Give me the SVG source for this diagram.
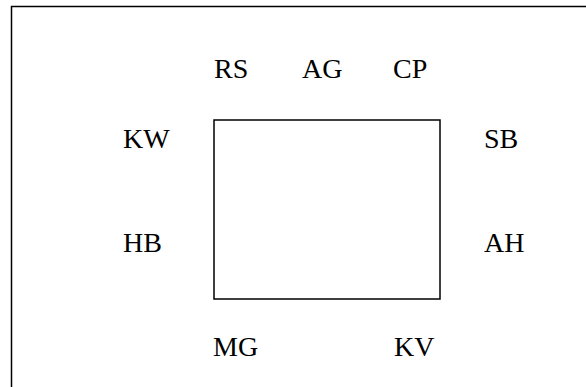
<svg xmlns="http://www.w3.org/2000/svg" width="586" height="387" viewBox="0 0 586 387">
<style>
.lbl{font-family:"Liberation Serif","Times New Roman",serif;font-size:28px;fill:#000}
.box{fill:none;stroke:#000;stroke-width:1.5}
</style>
<rect width="586" height="387" fill="#fff"/>
<rect id="frame" class="box" x="11.5" y="6.5" width="600" height="400" stroke-width="2"/>
<g id="center"><rect class="box" x="214" y="120" width="226" height="179"/></g>
<g id="connectors"></g>
<g id="RS"><text class="lbl" x="214" y="78">RS</text></g>
<g id="AG"><text class="lbl" x="302" y="78">AG</text></g>
<g id="CP"><text class="lbl" x="393" y="78">CP</text></g>
<g id="KW"><text class="lbl" x="123" y="148">KW</text></g>
<g id="SB"><text class="lbl" x="484" y="148">SB</text></g>
<g id="HB"><text class="lbl" x="123" y="252">HB</text></g>
<g id="AH"><text class="lbl" x="484" y="252">AH</text></g>
<g id="MG"><text class="lbl" x="213" y="356">MG</text></g>
<g id="KV"><text class="lbl" x="394" y="356">KV</text></g>
</svg>
